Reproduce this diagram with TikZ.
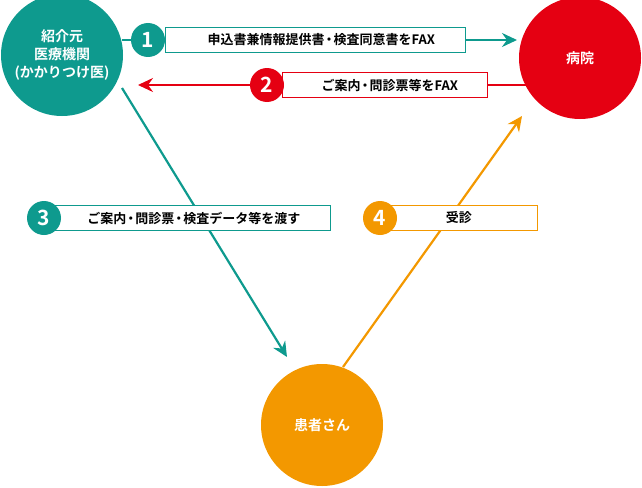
\documentclass[tikz,border=0pt]{standalone}
\usepackage{fontspec}
\newfontfamily\jp{Noto Sans CJK JP}[BoldFont={Noto Sans CJK JP Bold}]
\usetikzlibrary{arrows.meta}
\definecolor{tealc}{HTML}{0E9A8E}
\definecolor{redc}{HTML}{E50012}
\definecolor{orangec}{HTML}{F39800}
\newcommand{\nd}{\hspace{-2pt}・\hspace{-2pt}}
\tikzset{
  party/.style={circle,fill=#1,text=white,minimum size=122pt,inner sep=0pt,align=center,font=\jp\bfseries\fontsize{14}{18}\selectfont},
  numc/.style={circle,fill=#1,text=white,minimum size=34pt,inner sep=0pt,font=\jp\bfseries\fontsize{21}{21}\selectfont},
  lbox/.style={draw=#1,fill=white,line width=.8pt,minimum height=25pt,inner sep=0pt,font=\jp\bfseries\fontsize{13}{13}\selectfont},
  flow/.style={#1,line width=2.2pt,-{Stealth[length=15pt,width=14pt,inset=5pt]}}
}
\begin{document}
\begin{tikzpicture}[x=1pt,y=-1pt]
  \useasboundingbox (0,0) rectangle (642,487);
  % parties
  \node[party=tealc] (med) at (62,55) {紹介元\\医療機関\\(かかりつけ医)};
  \node[party=redc] (hosp) at (580,58) {病院};
  \node[party=orangec] (pat) at (322,425) {患者さん};
  % connector ends
  \coordinate (a1s) at (122,40);  \coordinate (a1e) at (517,40);
  \coordinate (a2s) at (527,85);  \coordinate (a2e) at (138,85);
  \coordinate (a3s) at (122,88);  \coordinate (a3e) at (287,357);
  \coordinate (a4s) at (343,367); \coordinate (a4e) at (522,116);
  % arrows
  \draw[flow=tealc] (a1s) -- (a1e);
  \draw[flow=redc] (a2s) -- (a2e);
  \draw[flow=tealc] (a3s) -- (a3e);
  \draw[flow=orangec] (a4s) -- (a4e);
  % labels
  \node[lbox=tealc,minimum width=300pt,anchor=west] (l1) at (165,40) {\hspace*{12pt}申込書兼情報提供書\nd 検査同意書をFAX};
  \node[numc=tealc] (n1) at (148,40) {1};
  \node[lbox=redc,minimum width=205pt,anchor=west] (l2) at (282,85) {\hspace*{10pt}ご案内\nd 問診票等をFAX};
  \node[numc=redc] (n2) at (267,85) {2};
  \node[lbox=tealc,minimum width=285pt,anchor=west] (l3) at (45,218) {\hspace*{12pt}ご案内\nd 問診票\nd 検査データ等を渡す};
  \node[numc=tealc] (n3) at (44,218) {3};
  \node[lbox=orangec,minimum width=157pt,anchor=west] (l4) at (380,218) {受診};
  \node[numc=orangec] (n4) at (380,218) {4};
\end{tikzpicture}
\end{document}
